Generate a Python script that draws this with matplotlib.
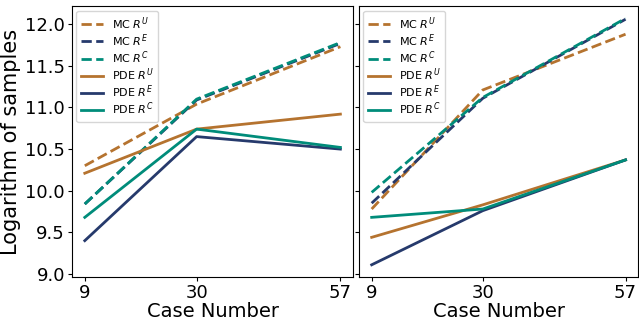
import matplotlib
matplotlib.use("Agg")
import matplotlib.pyplot as plt

cases = [9, 30, 57]

# left panel
left_mc_u = [10.30, 11.04, 11.73]
left_mc_e = [9.84, 11.09, 11.77]
left_mc_c = [9.84, 11.10, 11.78]
left_pde_u = [10.21, 10.74, 10.92]
left_pde_e = [9.40, 10.65, 10.50]
left_pde_c = [9.68, 10.74, 10.52]

# right panel
right_mc_u = [9.78, 11.21, 11.88]
right_mc_e = [9.85, 11.11, 12.06]
right_mc_c = [9.98, 11.12, 12.07]
right_pde_u = [9.44, 9.83, 10.37]
right_pde_e = [9.11, 9.76, 10.37]
right_pde_c = [9.68, 9.78, 10.37]

c_u = '#B5732F'
c_e = '#263A6C'
c_c = '#008C7A'

fig = plt.figure(figsize=(6.39, 3.2), dpi=100)
ax1 = fig.add_axes([0.1127, 0.134, 0.44, 0.847])
ax2 = fig.add_axes([0.5618, 0.134, 0.437, 0.847], sharey=ax1)

panels = [
    (ax1, left_mc_u, left_mc_e, left_mc_c, left_pde_u, left_pde_e, left_pde_c),
    (ax2, right_mc_u, right_mc_e, right_mc_c, right_pde_u, right_pde_e, right_pde_c),
]

for ax, mu, me, mc, pu, pe, pc in panels:
    ax.plot(cases, mu, '--', color=c_u, lw=2, label='MC $R^U$')
    ax.plot(cases, me, '--', color=c_e, lw=2, label='MC $R^E$')
    ax.plot(cases, mc, '--', color=c_c, lw=2, label='MC $R^C$')
    ax.plot(cases, pu, '-', color=c_u, lw=2, label='PDE $R^U$')
    ax.plot(cases, pe, '-', color=c_e, lw=2, label='PDE $R^E$')
    ax.plot(cases, pc, '-', color=c_c, lw=2, label='PDE $R^C$')
    ax.set_xticks(cases)
    ax.tick_params(labelsize=13, length=3, pad=2)
    ax.set_xlabel('Case Number', fontsize=14, labelpad=0)
    ax.legend(loc='upper left', fontsize=8, labelspacing=0.05,
              borderaxespad=0.4)

ax1.set_ylabel('Logarithm of samples', fontsize=15, labelpad=3)
ax1.set_yticks([9.0, 9.5, 10.0, 10.5, 11.0, 11.5, 12.0])
ax2.tick_params(labelleft=False)

fig.savefig('out.png', dpi=100)
